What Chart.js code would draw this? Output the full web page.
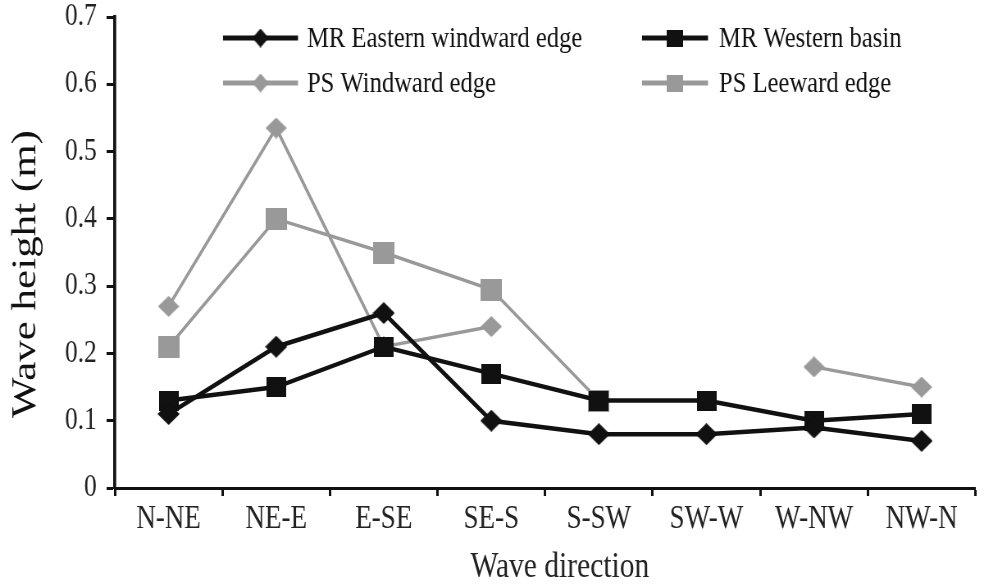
<!DOCTYPE html>
<html>
<head>
<meta charset="utf-8">
<script src="https://cdn.jsdelivr.net/npm/chart.js@4.4.1/dist/chart.umd.min.js"></script>
<style>
  html, body { margin: 0; padding: 0; background: #fff; overflow: hidden; }
  #wave_chart { transform: scaleX(0.82); transform-origin: 0 0; display: block; }
</style>
</head>
<body>
<canvas id="wave_chart" width="1204" height="586"></canvas>
<script>
// 波向カテゴリ
const directions = ['N-NE', 'NE-E', 'E-SE', 'SE-S', 'S-SW', 'SW-W', 'W-NW', 'NW-N'];
// 各地点の波高 (m)
const mrEastern = [0.11, 0.21, 0.26, 0.10, 0.08, 0.08, 0.09, 0.07];
const mrWestern = [0.13, 0.15, 0.21, 0.17, 0.13, 0.13, 0.10, 0.11];
const psWindward = [0.27, 0.535, 0.21, 0.24, null, null, 0.18, 0.15];
const psLeeward = [0.21, 0.40, 0.35, 0.295, 0.13, null, null, null];
// 縦軸の目盛り
const yTicks = [0, 0.1, 0.2, 0.3, 0.4, 0.5, 0.6, 0.7];

// 元の図は横方向に縮んでいるので、キャンバスを横に縮めて表示する
const SX = 0.82;
const BLACK = '#111111';
const GREY = '#999999';
const FONT = "'Liberation Serif', 'Times New Roman', serif";

// マーカー画像を作る (横に縮む分だけ幅を広げておく)
function makeMarker(style, color, w, h) {
    const c = document.createElement('canvas');
    c.width = Math.round(w / SX);
    c.height = h;
    const g = c.getContext('2d');
    g.fillStyle = color;
    g.beginPath();
    if (style === 'diamond') {
        g.moveTo(c.width / 2, 0);
        g.lineTo(c.width, h / 2);
        g.lineTo(c.width / 2, h);
        g.lineTo(0, h / 2);
        g.closePath();
    } else {
        g.rect(0, 0, c.width, h);
    }
    g.fill();
    return c;
}

const markers = [
    makeMarker('diamond', BLACK, 22, 22),
    makeMarker('square', BLACK, 20, 20),
    makeMarker('diamond', GREY, 21, 21),
    makeMarker('square', GREY, 21, 22)
];
const legendMarkers = [
    makeMarker('diamond', BLACK, 16, 19),
    makeMarker('square', BLACK, 16, 17),
    makeMarker('diamond', GREY, 16, 19),
    makeMarker('square', GREY, 16, 17)
];

// 凡例の位置 (元の図の座標)
const legendSlots = [
    { x: 223, y: 38, len: 75, gap: 9 },
    { x: 642, y: 38, len: 66, gap: 11 },
    { x: 223, y: 83, len: 75, gap: 9 },
    { x: 642, y: 83, len: 66, gap: 11 }
];

// 凡例を描くプラグイン
const legendPlugin = {
    id: 'customLegend',
    afterDraw(chart) {
        const ctx = chart.ctx;
        ctx.save();
        chart.data.datasets.forEach(function(ds, i) {
            const slot = legendSlots[i];
            const x0 = slot.x / SX;
            const len = slot.len / SX;
            ctx.strokeStyle = ds.borderColor;
            ctx.lineWidth = 5;
            ctx.beginPath();
            ctx.moveTo(x0, slot.y);
            ctx.lineTo(x0 + len, slot.y);
            ctx.stroke();
            const img = legendMarkers[i];
            ctx.drawImage(img, x0 + len / 2 - img.width / 2, slot.y - img.height / 2);
            ctx.fillStyle = '#111';
            ctx.font = '30px ' + FONT;
            ctx.textBaseline = 'middle';
            ctx.textAlign = 'left';
            ctx.fillText(ds.label, x0 + len + slot.gap / SX, slot.y + 1);
        });
        ctx.restore();
    }
};

function lineDataset(label, data, color, width, i) {
    return {
        label: label,
        data: data,
        borderColor: color,
        backgroundColor: color,
        pointBackgroundColor: color,
        pointStyle: markers[i],
        pointRadius: 10,
        borderWidth: width,
        tension: 0,
        spanGaps: false
    };
}

const ctx = document.getElementById('wave_chart').getContext('2d');
new Chart(ctx, {
    type: 'line',
    data: {
        labels: directions,
        datasets: [
            lineDataset('MR Eastern windward edge', mrEastern, BLACK, 4.5, 0),
            lineDataset('MR Western basin', mrWestern, BLACK, 4.5, 1),
            lineDataset('PS Windward edge', psWindward, GREY, 3.5, 2),
            lineDataset('PS Leeward edge', psLeeward, GREY, 3.5, 3)
        ]
    },
    options: {
        responsive: false,
        animation: false,
        layout: { padding: { top: 0, right: 3, left: 0, bottom: 0 } },
        plugins: {
            legend: { display: false },
            tooltip: { enabled: false }
        },
        scales: {
            x: {
                offset: true,
                grid: {
                    offset: true,
                    drawOnChartArea: false,
                    tickLength: 8,
                    tickWidth: 3,
                    tickColor: BLACK
                },
                border: { color: BLACK, width: 3 },
                ticks: {
                    color: '#222',
                    font: { family: FONT, size: 33 },
                    padding: 4,
                    maxRotation: 0,
                    autoSkip: false
                },
                title: {
                    display: true,
                    // 先頭の空白で元の図と同じく少し右に寄せる
                    text: '    Wave direction',
                    color: '#222',
                    font: { family: FONT, size: 36, lineHeight: 1 },
                    padding: { top: 0, bottom: 0 }
                },
                afterFit(scale) {
                    scale.height = 98;
                    scale.paddingLeft = 0;
                    scale.paddingRight = 0;
                }
            },
            y: {
                min: 0,
                max: 0.7,
                afterBuildTicks(scale) {
                    scale.ticks = yTicks.map(function(v) { return { value: v }; });
                },
                grid: {
                    drawOnChartArea: false,
                    tickLength: 10,
                    tickWidth: 3,
                    tickColor: BLACK
                },
                border: { color: BLACK, width: 3.7 },
                ticks: {
                    color: '#222',
                    font: { family: FONT, size: 31 },
                    padding: 12,
                    callback: function(v) { return v === 0 ? '0' : v.toFixed(1); }
                },
                title: {
                    display: true,
                    // 末尾の空白で元の図と同じく少し下に寄せる
                    text: 'Wave height (m)    ',
                    color: '#111',
                    font: { family: FONT, size: 43, lineHeight: 1 },
                    padding: { top: 10, bottom: 0 }
                },
                afterFit(scale) {
                    scale.width = 140;
                    scale.paddingTop = 17;
                    scale.paddingBottom = 0;
                }
            }
        }
    },
    plugins: [legendPlugin]
});
</script>
</body>
</html>
